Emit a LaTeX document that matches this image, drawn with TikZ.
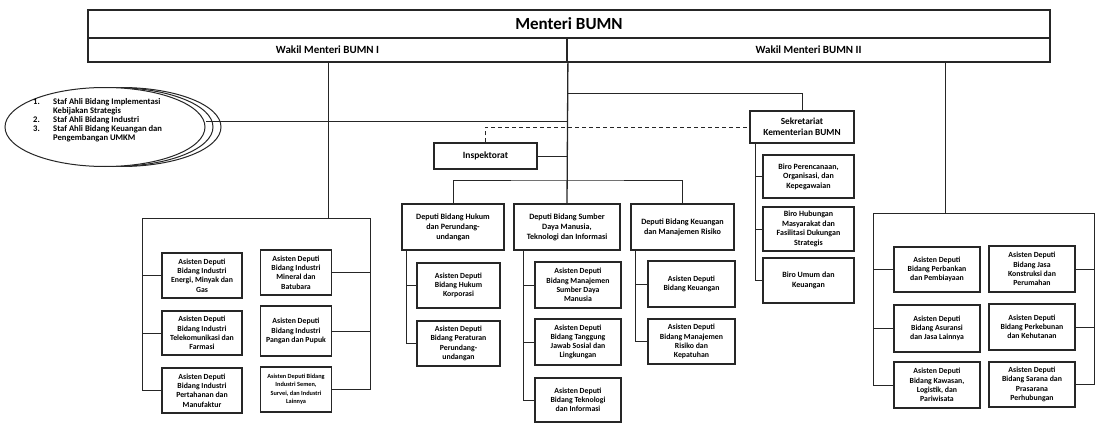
\documentclass[tikz,border=0pt]{standalone}
\usepackage{fontspec}
\setmainfont{Carlito}
\usetikzlibrary{calc,shapes.geometric}
\begin{document}
\begin{tikzpicture}[x=1pt,y=-1pt,
  ln/.style={line width=0.9pt, draw=black!85},
  bx/.style={draw=black!85, line width=1.3pt, fill=white, align=center, inner sep=1pt, font=\bfseries\fontsize{7.8}{9.2}\selectfont},
  dep/.style={bx, font=\bfseries\fontsize{8.1}{10}\selectfont},
  topbox/.style={draw=black!85, line width=1.8pt, inner sep=0pt},
  sz/.style 2 args={minimum width=#1pt, minimum height=#2pt},
  ell/.style={ellipse, draw=black!85, line width=1pt, fill=white, minimum width=200pt, minimum height=79pt}
]
\useasboundingbox (0,0) rectangle (1095,423);

% ---------- top frame ----------
\node[topbox, sz={962}{28}, font=\bfseries\fontsize{17}{20}\selectfont] (menteri) at (569,24) {Menteri BUMN};
\node[topbox, sz={479}{24}, font=\bfseries\fontsize{11}{13}\selectfont] (wakil1) at (327.5,50) {Wakil Menteri BUMN I};
\node[topbox, sz={483}{24}, font=\bfseries\fontsize{11}{13}\selectfont] (wakil2) at (808.5,50) {Wakil Menteri BUMN II};

% ---------- staf ahli ellipses ----------
\node[ell] (ell3) at (121,127) {};
\node[ell] (ell2) at (113,127) {};
\node[ell] (ell1) at (105,127) {};
\node[anchor=west, inner sep=0pt, font=\bfseries\fontsize{8.6}{9}\selectfont, align=left] (staf) at (33,121)
 {\begin{tabular}{@{}l@{}l@{}}
  \makebox[20pt][l]{1.} & Staf Ahli Bidang Implementasi\\
   & Kebijakan Strategis\\
  \makebox[20pt][l]{2.} & Staf Ahli Bidang Industri\\
  \makebox[20pt][l]{3.} & Staf Ahli Bidang Keuangan dan\\
   & Pengembangan UMKM
 \end{tabular}};

% ---------- coordinates ----------
\coordinate (cTop) at (wakil1.south east);
\coordinate (eline) at (567,121);
\coordinate (s93) at (567,93);
\coordinate (dbus) at (567,180);
\coordinate (lbtop) at (328,218);
\coordinate (lbL) at (142,218);
\coordinate (lbR) at (370,218);
\coordinate (rbtop) at (945,213);
\coordinate (rbL) at (873,213);
\coordinate (rbR) at (1094.5,213);
\coordinate (hb) at (406,0);
\coordinate (sdb) at (523,0);
\coordinate (kb) at (635,0);
\coordinate (sb) at (755,0);

% ---------- middle boxes ----------
\node[bx, sz={103}{26}, font=\bfseries\fontsize{9.5}{11}\selectfont] (insp) at (485.5,156) {Inspektorat};
\node[bx, sz={104}{32}, font=\bfseries\fontsize{9.3}{11}\selectfont] (sek) at (802,127) {Sekretariat\\Kementerian BUMN};

\node[bx, sz={91}{43}, font=\bfseries\fontsize{8}{9.6}\selectfont] (b1) at (808.5,176.5) {Biro Perencanaan,\\Organisasi, dan\\Kepegawaian};
\node[bx, sz={91}{44}, font=\bfseries\fontsize{8}{9.6}\selectfont] (b2) at (808.5,229) {Biro Hubungan\\Masyarakat dan\\Fasilitasi Dukungan\\Strategis};
\node[bx, sz={91}{45}, font=\bfseries\fontsize{8}{9.6}\selectfont] (b3) at (808.5,280.5) {Biro Umum dan\\Keuangan};

\node[dep, sz={102}{46}] (hukum) at (453,227) {Deputi Bidang Hukum\\dan Perundang-\\undangan};
\node[dep, sz={106}{46}] (sdm) at (567,227) {Deputi Bidang Sumber\\Daya Manusia,\\Teknologi dan Informasi};
\node[dep, sz={103}{46}] (keu) at (682.5,227) {Deputi Bidang Keuangan\\dan Manajemen Risiko};

\node[bx, sz={83}{45}] (hc1) at (458.5,285.5) {Asisten Deputi\\Bidang Hukum\\Korporasi};
\node[bx, sz={83}{45}] (hc2) at (458.5,343.5) {Asisten Deputi\\Bidang Peraturan\\Perundang-\\undangan};

\node[bx, sz={86}{46}] (s1) at (578,285) {Asisten Deputi\\Bidang Manajemen\\Sumber Daya\\Manusia};
\node[bx, sz={86}{46}] (s2) at (578,342) {Asisten Deputi\\Bidang Tanggung\\Jawab Sosial dan\\Lingkungan};
\node[bx, sz={86}{44}] (s3) at (578,400) {Asisten Deputi\\Bidang Teknologi\\dan Informasi};

\node[bx, sz={87}{46}] (k1) at (691.5,284) {Asisten Deputi\\Bidang Keuangan};
\node[bx, sz={87}{45}] (k2) at (691.5,341.5) {Asisten Deputi\\Bidang Manajemen\\Risiko dan\\Kepatuhan};

% ---------- left bracket boxes ----------
\node[bx, sz={80}{45}] (l1) at (202,275.5) {Asisten Deputi\\Bidang Industri\\Energi, Minyak dan\\Gas};
\node[bx, sz={80}{44}] (l2) at (202,333) {Asisten Deputi\\Bidang Industri\\Telekomunikasi dan\\Farmasi};
\node[bx, sz={80}{45}] (l3) at (202,390.5) {Asisten Deputi\\Bidang Industri\\Pertahanan dan\\Manufaktur};
\node[bx, sz={71}{45}] (r1) at (296,272.5) {Asisten Deputi\\Bidang Industri\\Mineral dan\\Batubara};
\node[bx, sz={71}{50}] (r2) at (296,331) {Asisten Deputi\\Bidang Industri\\Pangan dan Pupuk};
\node[bx, sz={71}{45}, font=\bfseries\fontsize{6.3}{8.5}\selectfont] (r3) at (296,389.5) {Asisten Deputi Bidang\\Industri Semen,\\Survei, dan Industri\\Lainnya};

% ---------- right bracket boxes ----------
\node[bx, sz={86}{45}] (rl1) at (937,269.5) {Asisten Deputi\\Bidang Perbankan\\dan Pembiayaan};
\node[bx, sz={86}{47}] (rl2) at (937,328.5) {Asisten Deputi\\Bidang Asuransi\\dan Jasa Lainnya};
\node[bx, sz={86}{46}] (rl3) at (937,385) {Asisten Deputi\\Bidang Kawasan,\\Logistik, dan\\Pariwisata};
\node[bx, sz={86}{46}] (rr1) at (1032,269) {Asisten Deputi\\Bidang Jasa\\Konstruksi dan\\Perumahan};
\node[bx, sz={86}{46}] (rr2) at (1032,327) {Asisten Deputi\\Bidang Perkebunan\\dan Kehutanan};
\node[bx, sz={86}{45}] (rr3) at (1032,384.5) {Asisten Deputi\\Bidang Sarana dan\\Prasarana\\Perhubungan};

% ---------- connectors ----------
\draw[ln, line width=1.3pt] (cTop) -- (sdm.north);
\draw[ln] (eline) -- (eline -| ell1.east);
\draw[ln] (s93) -| (sek.north);
\draw[ln] (insp.east) -- (insp.east -| cTop);
\draw[ln, dashed, dash pattern=on 4pt off 3pt] (insp.north) |- (sek.west);
\draw[ln] (hukum.north) |- (dbus) -| (keu.north);

% deputi children
\draw[ln] (hukum.south -| hb) |- (hc2.west);
\draw[ln] (hb |- hc1.west) -- (hc1.west);
\draw[ln] (sdm.south -| sdb) |- (s3.west);
\draw[ln] (sdb |- s1.west) -- (s1.west);
\draw[ln] (sdb |- s2.west) -- (s2.west);
\draw[ln] (keu.south -| kb) |- (k2.west);
\draw[ln] (kb |- k1.west) -- (k1.west);

% sekretariat children
\draw[ln] (sek.south -| sb) |- (b3.west);
\draw[ln] (sb |- b1.west) -- (b1.west);
\draw[ln] (sb |- b2.west) -- (b2.west);

% left bracket
\draw[ln] (lbtop |- wakil1.south) -- (lbtop);
\draw[ln] (lbL) -- (lbR);
\draw[ln] (lbL) |- (l3.west);
\draw[ln] (lbL |- l1.west) -- (l1.west);
\draw[ln] (lbL |- l2.west) -- (l2.west);
\draw[ln] (lbR) |- (r3.east);
\draw[ln] (lbR |- r1.east) -- (r1.east);
\draw[ln] (lbR |- r2.east) -- (r2.east);

% right bracket
\draw[ln] (rbtop |- wakil2.south) -- (rbtop);
\draw[ln] (rbL) -- (rbR);
\draw[ln] (rbL) |- (rl3.west);
\draw[ln] (rbL |- rl1.west) -- (rl1.west);
\draw[ln] (rbL |- rl2.west) -- (rl2.west);
\draw[ln] (rbR) |- (rr3.east);
\draw[ln] (rbR |- rr1.east) -- (rr1.east);
\draw[ln] (rbR |- rr2.east) -- (rr2.east);
\end{tikzpicture}
\end{document}
